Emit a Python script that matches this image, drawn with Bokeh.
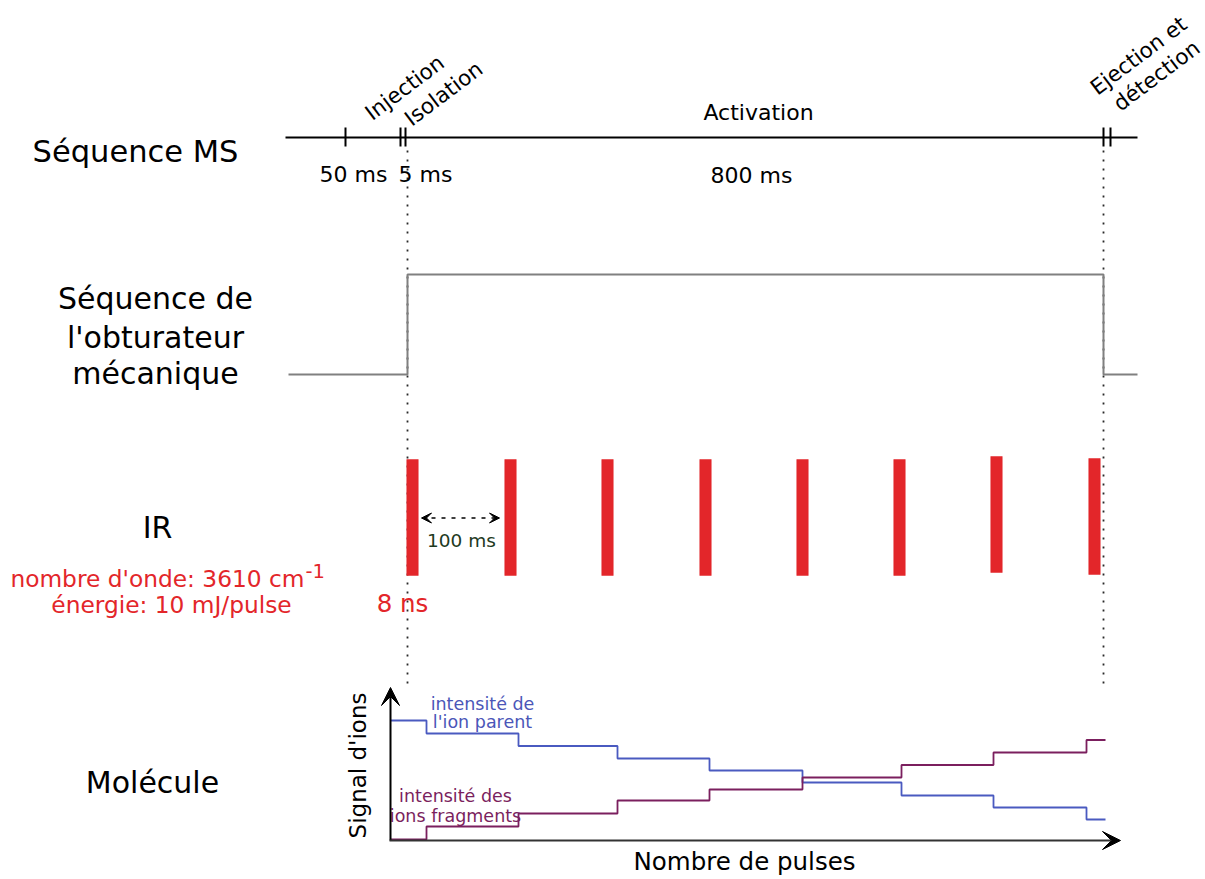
import math
from bokeh.plotting import figure
from bokeh.models import Range1d, Arrow, VeeHead
from bokeh.core.properties import value
from bokeh.embed import file_html
from bokeh.resources import INLINE

FONT = "DejaVu Sans"

# ---------------- data (schematic) ----------------
# MS sequence time line
ms_line_x = [285, 1137]
ms_tick_x = [345, 400, 405, 1103, 1110]
ms_duration_labels = ["50 ms", "5 ms", "800 ms"]
ms_duration_x = [353, 425, 751]
ms_step_labels = ["Injection", "Isolation", "Ejection et", "détection"]
ms_step_x = [404, 443, 1138, 1156]
ms_step_y = [87, 93, 55, 75]

# mechanical shutter (0 = closed, 1 = open)
shutter_x = [288, 407, 407, 1103, 1103, 1137]
shutter_state = [0, 0, 1, 1, 0, 0]

# IR pulses (one every 100 ms, 8 ns long)
pulse_x = [412, 510, 607, 705, 802, 899, 996, 1094]
pulse_top = [459, 459, 459, 459, 459, 459, 456, 458]
pulse_bottom = [575, 575, 575, 575, 575, 575, 572, 574]

# ion signals vs number of pulses (step changes)
step_x = [390, 426, 518, 617, 709, 802, 901, 993, 1086, 1105]
parent_signal = [119, 106, 93.5, 81, 69, 57, 44, 32, 20, 20]
fragment_signal = [0, 13, 26, 39, 50, 62, 74.5, 87, 99.5, 99.5]

# synchronisation marks
sync_x = [407, 1103]

# ---------------- figure ----------------
p = figure(width=1205, height=879, x_range=Range1d(0, 1205), y_range=Range1d(879, 0),
           output_backend="svg", toolbar_location=None, min_border=0,
           x_axis_type=None, y_axis_type=None)
p.grid.visible = False
p.outline_line_color = None
p.background_fill_color = "white"
p.border_fill_color = "white"
p.extra_y_ranges = {
    "shutter": Range1d(-5.05, 3.74),
    "signal": Range1d(-40, 839),
}


def txt(xs, ys, texts, size, color="black", align="center", baseline="alphabetic", angle=0.0):
    p.text(x=xs, y=ys, text=texts, text_font=value(FONT), text_font_size=value(f"{size}px"),
           text_color=color, text_align=align, text_baseline=baseline, angle=angle)


# dotted synchronisation lines
p.segment(x0=sync_x, y0=[150, 150], x1=sync_x, y1=[686, 686],
          line_color="#2a2a2a", line_width=1.8, line_dash="2 7")

# MS sequence
p.line(ms_line_x, [137, 137], line_color="black", line_width=2)
p.segment(x0=ms_tick_x, y0=[127] * len(ms_tick_x), x1=ms_tick_x, y1=[146] * len(ms_tick_x),
          line_color="black", line_width=2)
txt(ms_duration_x, [174, 174, 175], ms_duration_labels, 22)
txt([758], [112], ["Activation"], 22)
txt(ms_step_x, ms_step_y, ms_step_labels, 21.5, baseline="middle", angle=math.radians(37))

# shutter
p.line(shutter_x, shutter_state, y_range_name="shutter", line_color="#808080", line_width=2)

# IR pulses
p.vbar(x=pulse_x, width=11.5, top=pulse_top, bottom=pulse_bottom,
       fill_color="#e3262a", line_color="#e3262a", line_width=0.5)
p.add_layout(Arrow(start=VeeHead(size=10, fill_color="black", line_color="black"),
                   end=VeeHead(size=10, fill_color="black", line_color="black"),
                   x_start=421, y_start=517.5, x_end=499, y_end=517.5,
                   line_color="black", line_width=1.5, line_dash="4 6"))
txt([461], [540], ["100 ms"], 18.5, color="#1e3a1e")

# left labels
txt([135], [151], ["Séquence MS"], 30.5)
txt([155, 155, 155], [298, 337, 373], ["Séquence de", "l'obturateur", "mécanique"], 30)
txt([157], [527], ["IR"], 30)
txt([304], [578], ["nombre d'onde: 3610 cm"], 23.3, color="#e3262a", align="right")
txt([305], [570], ["-1"], 19.5, color="#e3262a", align="left")
txt([171], [604], ["énergie: 10 mJ/pulse"], 23.3, color="#e3262a")
txt([402], [603], ["8 ns"], 24.5, color="#e3262a")
txt([152], [782], ["Molécule"], 30)

# molecule panel axes
p.add_layout(Arrow(end=VeeHead(size=18, fill_color="black", line_color="black"),
                   x_start=390, y_start=840, x_end=390, y_end=687,
                   line_color="black", line_width=2))
p.add_layout(Arrow(end=VeeHead(size=18, fill_color="black", line_color="black"),
                   x_start=389, y_start=840, x_end=1120, y_end=840,
                   line_color="#333333", line_width=2))

# ion signals
p.step(step_x, parent_signal, mode="after", y_range_name="signal",
       line_color="#4a5ac0", line_width=1.8)
p.step(step_x, fragment_signal, mode="after", y_range_name="signal",
       line_color="#7b1f5e", line_width=1.8)

txt([482, 482], [703, 721], ["intensité de", "l'ion parent"], 17.5, color="#4b56b8")
txt([455, 455], [795, 815], ["intensité des", "ions fragments"], 17.5, color="#7b1f5e")
txt([357], [765], ["Signal d'ions"], 23, baseline="middle", angle=math.pi / 2)
txt([744], [861], ["Nombre de pulses"], 24.5)

open("out.html", "w").write(file_html(p, INLINE))
